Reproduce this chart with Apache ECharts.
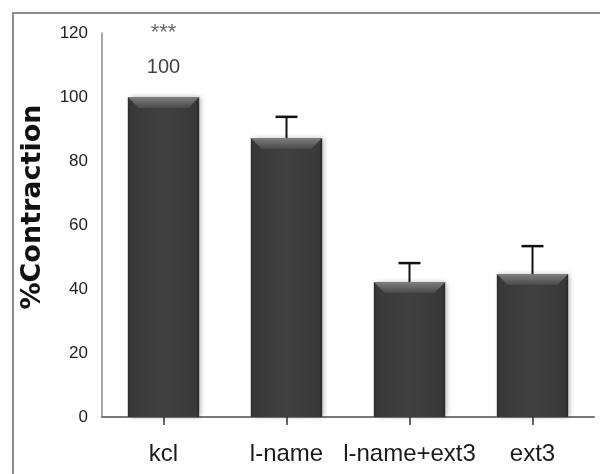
<!DOCTYPE html>
<html><head><meta charset="utf-8">
<script src="https://cdn.jsdelivr.net/npm/echarts@6/dist/echarts.min.js"></script>
<style>html,body{margin:0;padding:0;background:#fff;overflow:hidden}#c{width:600px;height:474px}</style>
</head><body><div id="c"></div>
<script>
const categories = ['kcl', 'l-name', 'l-name+ext3', 'ext3'];
const values = [100, 87.2, 42.2, 44.7];
const errors = [0, 6.6, 5.9, 8.7];
const yTicks = [0, 20, 40, 60, 80, 100, 120];
const annotation = {index: 0, stars: '***', text: '100'};

const font = '"Liberation Sans", Arial, sans-serif';
const chart = echarts.init(document.getElementById('c'), null, {renderer: 'canvas'});

const barData = categories.map((c, i) => [i, values[i]]);
const errData = categories.map((c, i) => [i, values[i], values[i] + errors[i]]);

chart.setOption({
  animation: false,
  backgroundColor: '#fff',
  grid: {left: 102, right: 6, top: 33, bottom: 57},
  graphic: [
    {type: 'polyline', shape: {points: [[13, 480], [13, 13], [610, 13]]}, style: {fill: 'none', stroke: '#8c8c8c', lineWidth: 2}, z: -1},
    {type: 'text', x: 33, y: 207, rotation: Math.PI / 2, style: {text: '%Contraction', font: 'bold 27px "DejaVu Sans", Verdana, sans-serif', fill: '#111', align: 'center', verticalAlign: 'middle'}}
  ],
  xAxis: {
    type: 'category', data: categories,
    axisLine: {lineStyle: {color: '#7a7a7a', width: 2}},
    axisTick: {show: true, alignWithLabel: true, length: 8, lineStyle: {color: '#333', width: 1.5}},
    axisLabel: {interval: 0, margin: 25, fontFamily: font, fontSize: 24, color: '#1a1a1a'}
  },
  yAxis: {
    type: 'value', min: 0, max: 120, interval: 20,
    splitLine: {show: false},
    axisLine: {show: true, lineStyle: {color: '#8a8a8a', width: 1.5}},
    axisTick: {show: false},
    axisLabel: {margin: 14, fontFamily: font, fontSize: 17, color: '#222',
      formatter: v => yTicks.includes(v) ? String(v) : ''}
  },
  series: [
    {
      type: 'custom',
      data: barData,
      encode: {x: 0, y: 1},
      renderItem: function (params, api) {
        const x = api.value(0), v = api.value(1);
        const top = api.coord([x, v]);
        const base = api.coord([x, 0]);
        const w = api.size([1, 0])[0] * 0.58;
        const l = top[0] - w / 2, r = top[0] + w / 2;
        const t = top[1], b = base[1];
        const bev = 11;
        return {
          type: 'group',
          children: [
            {type: 'rect', shape: {x: l, y: t, width: w, height: b - t},
              style: {fill: new echarts.graphic.LinearGradient(0, 0, 1, 0, [
                {offset: 0, color: '#2c2c2c'}, {offset: 0.04, color: '#383838'},
                {offset: 0.5, color: '#404040'}, {offset: 0.96, color: '#383838'}, {offset: 1, color: '#282828'}]),
                shadowBlur: 5, shadowColor: 'rgba(0,0,0,0.3)', shadowOffsetX: 2, shadowOffsetY: 0}},
            {type: 'polygon', shape: {points: [[l, t], [r, t], [r - bev, t + bev], [l + bev, t + bev]]},
              style: {fill: new echarts.graphic.LinearGradient(0, 0, 0, 1, [
                {offset: 0, color: '#7e7e7e'}, {offset: 1, color: '#4a4a4a'}])}}
          ]
        };
      },
      z: 2
    },
    {
      type: 'custom',
      data: errData,
      encode: {x: 0, y: [1, 2]},
      renderItem: function (params, api) {
        const x = api.value(0), lo = api.value(1), hi = api.value(2);
        if (hi <= lo) return null;
        const p0 = api.coord([x, lo]);
        const p1 = api.coord([x, hi]);
        const cap = 11;
        return {
          type: 'group',
          children: [
            {type: 'line', shape: {x1: p0[0], y1: p0[1], x2: p1[0], y2: p1[1]}, style: {stroke: '#111', lineWidth: 2}},
            {type: 'line', shape: {x1: p1[0] - cap, y1: p1[1], x2: p1[0] + cap, y2: p1[1]}, style: {stroke: '#111', lineWidth: 2.5}}
          ]
        };
      },
      z: 1
    },
    {
      type: 'scatter',
      data: [[annotation.index, values[annotation.index]]],
      symbolSize: 0,
      label: {
        show: true, position: 'top', distance: 18,
        formatter: annotation.stars + '\n' + '{v|' + annotation.text + '}',
        fontFamily: font, fontSize: 22, color: '#444', lineHeight: 44,
        rich: {v: {fontFamily: font, fontSize: 20, color: '#111', lineHeight: 24}}
      },
      z: 3
    }
  ]
});
</script></body></html>
